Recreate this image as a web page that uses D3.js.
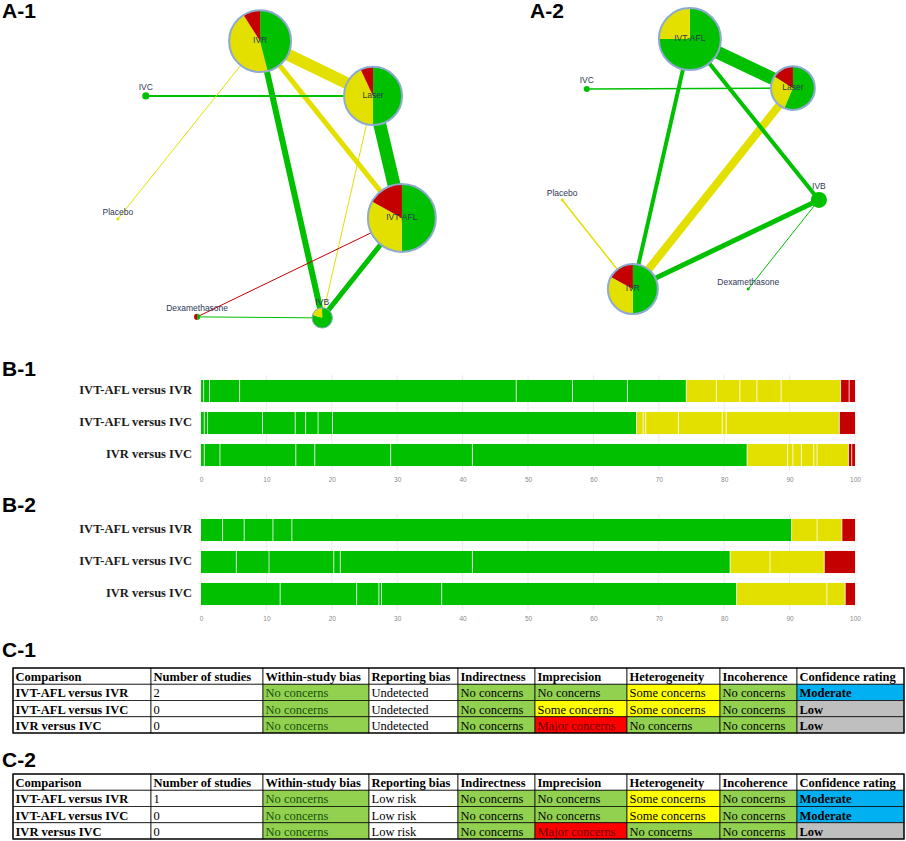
<!DOCTYPE html>
<html>
<head>
<meta charset="utf-8">
<script src="https://cdn.jsdelivr.net/npm/d3@7"></script>
<style>
  body { margin: 0; background: #fff; }
  svg { display: block; }
</style>
</head>
<body>
<svg id="fig" width="906" height="841"></svg>
<script>
// ---- data ------------------------------------------------------------
const ROB_COLORS = { low: "#00c000", some: "#e3e000", high: "#c40000" };

// network A-1 : layout position (0-100 grid), node size, RoB share [low, some, high]
const nodesA1 = [
  { name: "IVR", gx: 57.8, gy: 12.1, size: 83, rob: [0.46, 0.45, 0.09] },
  { name: "Laser", gx: 82.9, gy: 28.2, size: 73, rob: [0.5, 0.43, 0.07] },
  { name: "IVT-AFL", gx: 89.3, gy: 64.1, size: 100, rob: [0.5, 0.33, 0.17] },
  { name: "IVB", gx: 71.6, gy: 93.5, size: 9, rob: [0.8, 0.2, 0] },
  { name: "IVC", gx: 32.4, gy: 28.2, size: 1.1, rob: [1, 0, 0] },
  { name: "Placebo", gx: 26.2, gy: 64.4, size: 0.2, rob: [0, 1, 0] },
  { name: "Dexamethasone", gx: 43.8, gy: 93.2, size: 0.8, rob: [0.5, 0, 0.5] },
];
const edgesA1 = [
  ["IVR", "Laser", 12, "some"],
  ["Laser", "IVT-AFL", 13, "low"],
  ["IVR", "IVT-AFL", 5, "some"],
  ["IVR", "IVB", 6, "low"],
  ["IVT-AFL", "IVB", 5, "low"],
  ["Laser", "IVC", 2, "low"],
  ["Laser", "IVB", 1, "some"],
  ["IVR", "Placebo", 1, "some"],
  ["IVT-AFL", "Dexamethasone", 1, "high"],
  ["IVB", "Dexamethasone", 1, "low"],
];

// network A-2
const nodesA2 = [
  { name: "IVT-AFL", gx: 52.6, gy: 11.5, size: 100, rob: [0.75, 0.25, 0] },
  { name: "Laser", gx: 75.2, gy: 25.9, size: 50, rob: [0.565, 0.275, 0.16] },
  { name: "IVB", gx: 80.9, gy: 58.8, size: 6.7, rob: [1, 0, 0] },
  { name: "IVR", gx: 40.1, gy: 85.0, size: 65, rob: [0.5, 0.33, 0.17] },
  { name: "IVC", gx: 30.0, gy: 26.2, size: 0.94, rob: [1, 0, 0] },
  { name: "Placebo", gx: 24.6, gy: 58.8, size: 0.23, rob: [0, 1, 0] },
  { name: "Dexamethasone", gx: 65.4, gy: 85.0, size: 0.23, rob: [1, 0, 0] },
];
const edgesA2 = [
  ["IVT-AFL", "Laser", 13, "low"],
  ["Laser", "IVR", 8, "some"],
  ["IVT-AFL", "IVR", 4, "low"],
  ["IVT-AFL", "IVB", 4, "low"],
  ["IVR", "IVB", 5, "low"],
  ["Laser", "IVC", 1.5, "low"],
  ["IVR", "Placebo", 1.5, "some"],
  ["IVB", "Dexamethasone", 1, "low"],
];

// contribution bars (percent contribution per study, grouped by RoB)
const barRows = ["IVT-AFL versus IVR", "IVT-AFL versus IVC", "IVR versus IVC"];
const barTicks = [0, 10, 20, 30, 40, 50, 60, 70, 80, 90, 100];
const contribB1 = [
  { low: [0.4, 0.9, 4.6, 42.3, 8.6, 8.4, 9.0], some: [4.6, 3.6, 2.6, 3.7, 9.1], high: [1.3, 0.9] },
  { low: [0.5, 0.5, 8.4, 5.0, 1.6, 1.9, 2.2, 46.5], some: [1.0, 0.4, 5.0, 6.7, 0.6, 17.3], high: [2.4] },
  { low: [0.5, 2.4, 11.6, 2.9, 11.6, 12.5, 42.0], some: [6.2, 0.8, 1.3, 1.9, 0.5, 4.8], high: [0.5, 0.5] },
];
const contribB2 = [
  { low: [3.3, 3.3, 4.4, 2.9, 76.4], some: [3.9, 3.8], high: [2.0] },
  { low: [5.4, 5.0, 9.9, 1.0, 20.2, 39.4], some: [6.1, 8.3], high: [4.7] },
  { low: [12.1, 11.7, 3.4, 0.4, 9.2, 45.1], some: [13.8, 2.8], high: [1.5] },
];

// CINeMA tables
const tableCols = ["Comparison", "Number of studies", "Within-study bias", "Reporting bias",
  "Indirectness", "Imprecision", "Heterogeneity", "Incoherence", "Confidence rating"];
const tableC1 = [
  ["IVT-AFL versus IVR", "2", "No concerns", "Undetected", "No concerns", "No concerns", "Some concerns", "No concerns", "Moderate"],
  ["IVT-AFL versus IVC", "0", "No concerns", "Undetected", "No concerns", "Some concerns", "Some concerns", "No concerns", "Low"],
  ["IVR versus IVC", "0", "No concerns", "Undetected", "No concerns", "Major concerns", "No concerns", "No concerns", "Low"],
];
const tableC2 = [
  ["IVT-AFL versus IVR", "1", "No concerns", "Low risk", "No concerns", "No concerns", "Some concerns", "No concerns", "Moderate"],
  ["IVT-AFL versus IVC", "0", "No concerns", "Low risk", "No concerns", "No concerns", "Some concerns", "No concerns", "Moderate"],
  ["IVR versus IVC", "0", "No concerns", "Low risk", "No concerns", "Major concerns", "No concerns", "No concerns", "Low"],
];

// ---- drawing ---------------------------------------------------------
const svg = d3.select("#fig");
svg.append("rect").attr("width", 906).attr("height", 841).attr("fill", "#fff");

function panelLabel(txt, x, y) {
  svg.append("text").attr("x", x).attr("y", y)
    .attr("font-family", "Liberation Sans, Arial, sans-serif")
    .attr("font-weight", 700).attr("font-size", 21).attr("fill", "#000")
    .text(txt);
}

function drawNetwork(nodes, edges, x0, x1, maxR) {
  const xs = d3.scaleLinear().domain([0, 100]).range([x0, x1]);
  const ys = d3.scaleLinear().domain([0, 100]).range([0, 340]);
  const rs = d3.scaleSqrt().domain([0, 100]).range([0, maxR]);
  const ws = d3.scaleLinear().domain([0, 13]).range([0, 13]);
  const byName = new Map(nodes.map((n) => [n.name, n]));
  const g = svg.append("g");

  g.selectAll("line.edge")
    .data(edges)
    .join("line")
    .attr("class", "edge")
    .attr("x1", (d) => xs(byName.get(d[0]).gx))
    .attr("y1", (d) => ys(byName.get(d[0]).gy))
    .attr("x2", (d) => xs(byName.get(d[1]).gx))
    .attr("y2", (d) => ys(byName.get(d[1]).gy))
    .attr("stroke", (d) => ROB_COLORS[d[3]])
    .attr("stroke-width", (d) => ws(d[2]));

  const pie = d3.pie().sort(null).value((d) => d);
  const levels = ["low", "some", "high"];
  nodes.forEach((n) => {
    const r = rs(n.size);
    const ng = g.append("g").attr("transform", `translate(${xs(n.gx)},${ys(n.gy)})`);
    const arc = d3.arc().innerRadius(0).outerRadius(r);
    ng.selectAll("path")
      .data(pie(n.rob).map((a, i) => ({ ...a, lvl: levels[i] })))
      .join("path")
      .attr("d", arc)
      .attr("fill", (d) => ROB_COLORS[d.lvl]);
    if (r > 9) {
      ng.append("circle").attr("r", r).attr("fill", "none")
        .attr("stroke", "#8eaad0").attr("stroke-width", r > 15 ? 2 : 1);
    }
    ng.append("text")
      .attr("x", 0)
      .attr("y", r > 15 ? 0 : -r - 5)
      .attr("text-anchor", "middle")
      .attr("dominant-baseline", "middle")
      .attr("font-family", "Liberation Sans, Arial, sans-serif")
      .attr("font-size", 8.5)
      .attr("fill", "#2c3857")
      .text(n.name);
  });
}

drawNetwork(nodesA1, edgesA1, 0, 450, 34);
drawNetwork(nodesA2, edgesA2, 450, 906, 31);
panelLabel("A-1", 2, 18);
panelLabel("A-2", 530, 18);

function drawBars(contrib, yTop, tickY) {
  const x = d3.scaleLinear().domain([0, 100]).range([201, 855]);
  const y = d3.scaleBand().domain(barRows).range([yTop, yTop + 96])
    .paddingInner(0.31).paddingOuter(0.155);
  const g = svg.append("g");

  // grid
  g.selectAll("line.vgrid").data(barTicks).join("line")
    .attr("x1", (d) => x(d)).attr("x2", (d) => x(d))
    .attr("y1", yTop).attr("y2", yTop + 96)
    .attr("stroke", "#ebebeb").attr("stroke-width", 1);
  g.selectAll("line.hgrid").data(barRows.slice(1)).join("line")
    .attr("x1", x(0)).attr("x2", x(100))
    .attr("y1", (d) => y(d) - 4).attr("y2", (d) => y(d) - 4)
    .attr("stroke", "#f2f2f2").attr("stroke-width", 1);

  barRows.forEach((row, i) => {
    const segs = [];
    let acc = 0;
    ["low", "some", "high"].forEach((lvl) => {
      contrib[i][lvl].forEach((v) => {
        segs.push({ lvl, start: acc, end: acc + v });
        acc += v;
      });
    });
    g.selectAll(null).data(segs).join("rect")
      .attr("x", (d) => x(d.start))
      .attr("y", y(row))
      .attr("width", (d) => Math.max(0, x(d.end) - x(d.start)))
      .attr("height", y.bandwidth())
      .attr("fill", (d) => ROB_COLORS[d.lvl]);
    g.selectAll(null).data(segs.slice(1)).join("line")
      .attr("x1", (d) => x(d.start)).attr("x2", (d) => x(d.start))
      .attr("y1", y(row)).attr("y2", y(row) + y.bandwidth())
      .attr("stroke", "#ffffff").attr("stroke-opacity", 0.75).attr("stroke-width", 1);

    g.append("text")
      .attr("x", 192).attr("y", y(row) + y.bandwidth() / 2)
      .attr("text-anchor", "end").attr("dominant-baseline", "middle")
      .attr("font-family", "Liberation Serif, Times New Roman, serif")
      .attr("font-weight", 700).attr("font-size", 12.5).attr("fill", "#1a1a1a")
      .text(row);
  });

  const axis = d3.axisBottom(x).tickValues(barTicks).tickSize(0).tickPadding(0);
  const ax = g.append("g").attr("transform", `translate(0,${tickY})`).call(axis);
  ax.select(".domain").remove();
  ax.selectAll("text").attr("font-family", "Liberation Sans, Arial, sans-serif")
    .attr("font-size", 6.5).attr("fill", "#8a8a8a").attr("dy", "0.35em");
}

drawBars(contribB1, 375, 480);
drawBars(contribB2, 514, 619);
panelLabel("B-1", 2, 376);
panelLabel("B-2", 2, 512);

const colWidths = [138, 112, 106, 89, 77, 92, 93, 77, 107];
const FILL = {
  "No concerns": "#92d050",
  "Some concerns": "#ffff00",
  "Major concerns": "#ff0000",
  "Moderate": "#00b0f0",
  "Low": "#bfbfbf",
};

function drawTable(rows, yTop) {
  const colX = [13];
  colWidths.forEach((w) => colX.push(colX[colX.length - 1] + w));
  const all = [tableCols, ...rows];
  const y = d3.scaleBand().domain(d3.range(all.length)).range([yTop, yTop + 65]);
  const g = svg.append("g");
  all.forEach((r, ri) => {
    r.forEach((val, ci) => {
      const isHead = ri === 0;
      const fill = isHead ? "#fff" : FILL[val] || "#fff";
      g.append("rect")
        .attr("x", colX[ci]).attr("y", y(ri))
        .attr("width", colWidths[ci]).attr("height", y.bandwidth())
        .attr("fill", fill).attr("stroke", "#111").attr("stroke-width", 0.8);
      let color = "#000";
      if (!isHead && ci === 2 && val === "No concerns") color = "#14520a";
      if (!isHead && val === "Major concerns") color = "#6e0000";
      const bold = isHead || ci === 0 || ci === 8;
      g.append("text")
        .attr("x", colX[ci] + 2.5).attr("y", y(ri) + y.bandwidth() - 3.2)
        .attr("font-family", "Liberation Serif, Times New Roman, serif")
        .attr("font-size", 12.5).attr("font-weight", bold ? 700 : 400)
        .attr("fill", color)
        .text(val);
    });
  });
  g.append("rect").attr("x", colX[0]).attr("y", yTop)
    .attr("width", colX[colX.length - 1] - colX[0]).attr("height", 65)
    .attr("fill", "none").attr("stroke", "#000").attr("stroke-width", 1.2);
}

drawTable(tableC1, 668);
drawTable(tableC2, 774);
panelLabel("C-1", 2, 657);
panelLabel("C-2", 2, 767);
</script>
</body>
</html>
